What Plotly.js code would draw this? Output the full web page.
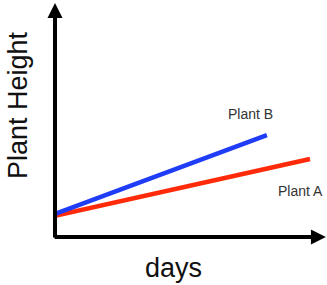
<!DOCTYPE html>
<html>
<head>
<meta charset="utf-8">
<script src="https://cdn.plot.ly/plotly-3.0.1.min.js"></script>
<style>html,body{margin:0;padding:0;background:#fff;}#chart{width:327px;height:285px;}</style>
</head>
<body>
<div id="chart"></div>
<script>
// Data (days vs plant height, arbitrary units)
const seriesNames = ["Plant A", "Plant B"];
const plantADays = [0, 9.375];
const plantAHeight = [0.89, 3.29];
const plantBDays = [0, 7.79];
const plantBHeight = [0.97, 4.30];
const xTitle = "days";
const yTitle = "Plant Height";

const font = "Liberation Sans, Arial, sans-serif";

const traces = [
  {x: plantADays, y: plantAHeight, mode: "lines", name: seriesNames[0],
   line: {color: "#ff2a0a", width: 4.5}, hoverinfo: "skip"},
  {x: plantBDays, y: plantBHeight, mode: "lines", name: seriesNames[1],
   line: {color: "#1f3cf7", width: 4.5}, hoverinfo: "skip"}
];

const axisOff = {range: [0, 10], showline: false, showgrid: false, zeroline: false,
  showticklabels: false, ticks: "", fixedrange: true};

const layout = {
  width: 327, height: 285,
  margin: {l: 55, r: 0, t: 0, b: 48, pad: 0},
  paper_bgcolor: "#fff", plot_bgcolor: "#fff",
  showlegend: false,
  xaxis: Object.assign({}, axisOff),
  yaxis: Object.assign({}, axisOff),
  annotations: [
    // axes with arrowheads
    {x: 9.96, y: 0, ax: -0.07, ay: 0, xref: "x", yref: "y", axref: "x", ayref: "y",
     text: "", showarrow: true, arrowhead: 2, arrowsize: 0.75, arrowwidth: 4,
     arrowcolor: "#000", standoff: 0, startstandoff: 0},
    {x: 0, y: 9.87, ax: 0, ay: -0.08, xref: "x", yref: "y", axref: "x", ayref: "y",
     text: "", showarrow: true, arrowhead: 2, arrowsize: 0.75, arrowwidth: 4,
     arrowcolor: "#000", standoff: 0, startstandoff: 0},
    // series labels
    {x: (250 - 55) / 27.2, y: (237 - 114) / 23.7, xref: "x", yref: "y", text: seriesNames[1],
     showarrow: false, font: {family: font, size: 14, color: "#333"}},
    {x: (300 - 55) / 27.2, y: (237 - 191) / 23.7, xref: "x", yref: "y", text: seriesNames[0],
     showarrow: false, font: {family: font, size: 14, color: "#333"}},
    // axis titles
    {x: (173 - 55) / 272, y: (237 - 268) / 237, xref: "paper", yref: "paper", text: xTitle,
     showarrow: false, xanchor: "center", yanchor: "middle",
     font: {family: font, size: 27, color: "#111"}},
    {x: (18 - 55) / 272, y: (237 - 105) / 237, xref: "paper", yref: "paper", text: yTitle,
     showarrow: false, textangle: -90, xanchor: "center", yanchor: "middle",
     font: {family: font, size: 27, color: "#111"}}
  ]
};

Plotly.newPlot("chart", traces, layout, {staticPlot: true, displayModeBar: false});
</script>
</body>
</html>
